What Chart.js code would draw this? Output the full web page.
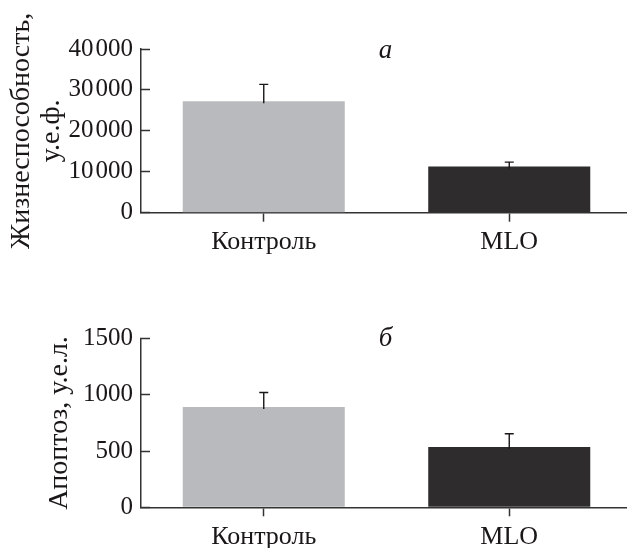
<!DOCTYPE html>
<html>
<head>
<meta charset="utf-8">
<script src="https://cdn.jsdelivr.net/npm/chart.js@4"></script>
<style>
  html, body { margin: 0; padding: 0; background: #fff; overflow: hidden; width: 627px; height: 548px; }
  canvas { position: absolute; left: 0; }
  #c1 { top: 0; }
  #c2 { top: 274px; }
</style>
</head>
<body>
<canvas id="c1" width="632" height="274"></canvas>
<canvas id="c2" width="632" height="274"></canvas>
<script>
// ---- data ----
const categories = ['Контроль', 'MLO'];
const barColors = ['#b9babd', '#2e2c2d'];

const viabilityValues = [27250, 11300];
const viabilityErrors = [4100, 1050];
const viabilityTicks = [0, 10000, 20000, 30000, 40000];
const viabilityTitle = ['Жизнеспособность,', 'у.е.ф.'];
const viabilityLetter = 'а';

const apoptosisValues = [892, 536];
const apoptosisErrors = [130, 118];
const apoptosisTicks = [0, 500, 1000, 1500];
const apoptosisTitle = 'Апоптоз, у.е.л.';
const apoptosisLetter = 'б';

const INK = '#1a1718';
const AXIS = '#333';
const SERIF = "'Liberation Serif', 'Times New Roman', serif";

Chart.defaults.font.family = SERIF;
Chart.defaults.color = INK;

function fmt(v) {
  const s = String(v);
  return s.length > 4 ? s.slice(0, -3) + '\u200A' + s.slice(-3) : s;
}

const errorBars = {
  id: 'errorBars',
  afterDatasetsDraw(chart) {
    const ctx = chart.ctx;
    const meta = chart.getDatasetMeta(0);
    const ys = chart.scales.y;
    const ds = chart.data.datasets[0];
    ctx.save();
    ctx.strokeStyle = INK;
    ctx.lineWidth = 1.4;
    meta.data.forEach((bar, i) => {
      const v = ds.data[i], e = ds.errors[i];
      const yTop = ys.getPixelForValue(v + e);
      const yBar = ys.getPixelForValue(v);
      ctx.beginPath();
      ctx.moveTo(bar.x, yBar + 2);
      ctx.lineTo(bar.x, yTop);
      ctx.moveTo(bar.x - 4.5, yTop);
      ctx.lineTo(bar.x + 4.5, yTop);
      ctx.stroke();
    });
    ctx.restore();
  }
};

const panelLetter = {
  id: 'panelLetter',
  afterDraw(chart, args, opts) {
    const ctx = chart.ctx;
    const ys = chart.scales.y;
    const ca = chart.chartArea;
    ctx.save();
    ctx.font = 'italic 27px ' + SERIF;
    ctx.fillStyle = INK;
    ctx.textAlign = 'center';
    ctx.textBaseline = 'middle';
    ctx.fillText(opts.text, (ca.left + ca.right) / 2 - 1, ys.getPixelForValue(ys.max) + opts.dy);
    ctx.restore();
  }
};

function makeChart(id, values, errors, ticks, title, letter, padTop, xHeight, titlePad, letterDy) {
  return new Chart(document.getElementById(id), {
    type: 'bar',
    data: {
      labels: categories,
      datasets: [{
        data: values,
        errors: errors,
        backgroundColor: barColors,
        borderWidth: 0,
        barPercentage: 0.66,
        categoryPercentage: 1
      }]
    },
    options: {
      responsive: false,
      animation: false,
      events: [],
      layout: { padding: { top: padTop, left: 0, right: 0, bottom: 0 } },
      plugins: {
        legend: { display: false },
        tooltip: { enabled: false },
        panelLetter: { text: letter, dy: letterDy }
      },
      scales: {
        x: {
          type: 'category',
          grid: {
            display: true,
            drawOnChartArea: false,
            drawTicks: true,
            offset: false,
            tickLength: 9,
            tickColor: AXIS,
            tickWidth: 1.5
          },
          border: { display: true, color: AXIS, width: 1.5 },
          ticks: {
            font: { size: 26 },
            color: INK,
            padding: 5,
            maxRotation: 0
          },
          afterFit: s => { s.height = xHeight; }
        },
        y: {
          min: 0,
          max: ticks[ticks.length - 1],
          afterBuildTicks: s => { s.ticks = ticks.map(v => ({ value: v })); },
          grid: {
            display: true,
            drawOnChartArea: false,
            drawTicks: true,
            tickLength: -9,
            tickColor: AXIS,
            tickWidth: 1.5
          },
          border: { display: true, color: AXIS, width: 1.5 },
          ticks: {
            font: { size: 25 },
            color: INK,
            padding: 17,
            callback: v => fmt(v)
          },
          title: {
            display: true,
            text: title,
            font: { size: 28, lineHeight: 1.07 },
            color: INK,
            padding: { top: titlePad, bottom: 0 }
          },
          afterFit: s => { s.width = 141; }
        }
      }
    },
    plugins: [errorBars, panelLetter]
  });
}

makeChart('c1', viabilityValues, viabilityErrors, viabilityTicks, viabilityTitle, viabilityLetter, 49, 61.3, 7, 2);
makeChart('c2', apoptosisValues, apoptosisErrors, apoptosisTicks, apoptosisTitle, apoptosisLetter, 64.7, 40.7, 45, 0);
</script>
</body>
</html>
